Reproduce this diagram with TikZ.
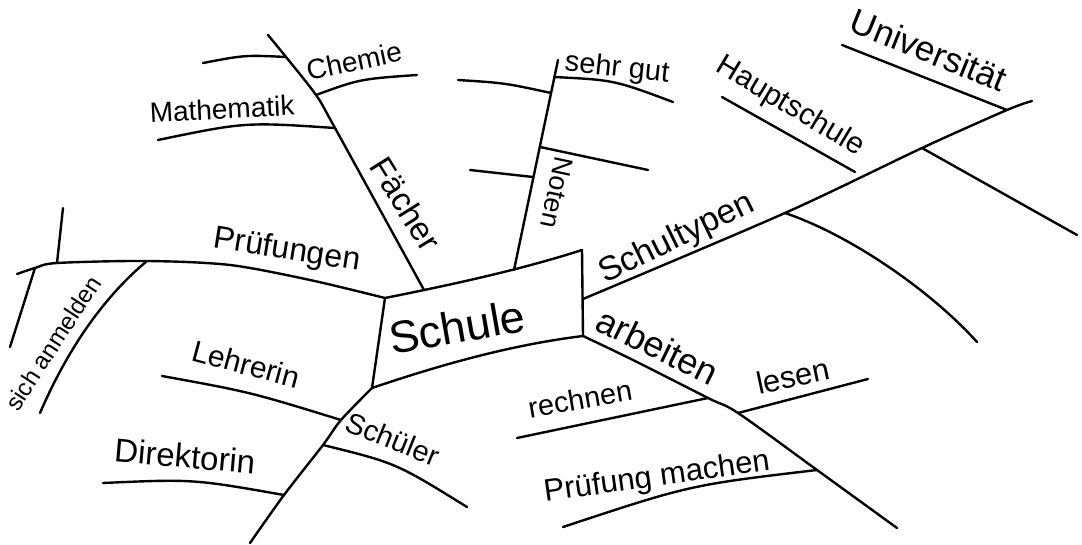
\documentclass[tikz,border=0pt]{standalone}
\usepackage{fontspec}
\setmainfont{Liberation Sans}
\usetikzlibrary{positioning}
\newcommand{\wsize}[1]{\fontsize{#1}{#1}\selectfont}

\begin{document}
\begin{tikzpicture}[x=1pt, y=-1pt]
  \tikzstyle{branch} = [line width=2.4pt, line cap=round, line join=round]
  \tikzstyle{word} = [inner sep=0pt]
  \useasboundingbox (0,0) rectangle (1082,545);

  % central box, corners from top left going clockwise
  \coordinate (tl) at (385,298);
  \coordinate (tr) at (582,250);
  \coordinate (br) at (583,336);
  \coordinate (bl) at (372,388);
  \draw[branch] (tl) .. controls (450,285) and (520,270) .. (tr) -- (br)
     .. controls (510,345) and (440,365) .. (bl) -- cycle;
  \node (schule) [word, font=\wsize{45}, rotate=10] at (457,327) {Schule};

  % Faecher, leaving the top edge
  \coordinate (fa0) at (424,290);
  \coordinate (fa1) at (335,128);
  \coordinate (fa2) at (316,95);
  \coordinate (fa3) at (286,57);
  \coordinate (fa4) at (268,35);
  \draw[branch] plot[smooth] coordinates {(fa0) (fa1) (fa2) (fa3) (fa4)};
  \draw[branch] (fa3) .. controls (245,55) .. (203,63);
  \draw[branch] (fa2) .. controls (360,79) .. (417,75);
  \draw[branch] (fa1) .. controls (245,122) .. (158,140);
  \node (faecher) [word, font=\wsize{33}, rotate=-58] at (406,204) {Fächer};
  \node (chemie)  [word, font=\wsize{28}, rotate=12] at (354,61) {Chemie};
  \node (mathe)   [word, font=\wsize{28}, rotate=3] at (222,109) {Mathematik};

  % Pruefungen, to the left
  \coordinate (pr1) at (147,261);
  \coordinate (pr2) at (57,263);
  \coordinate (an)  at (35,268);
  \coordinate (pr3) at (17,274);
  \draw[branch] plot[smooth] coordinates {(tl) (310,280) (230,265) (pr1) (pr2) (an) (pr3)};
  \draw[branch] (pr2) -- (63,208);
  \draw[branch] (an) -- (10,347);
  \draw[branch] (pr1) .. controls (100,300) and (65,355) .. (40,413);
  \node (pruef)    [word, font=\wsize{32}, rotate=-9] at (287,251) {Prüfungen};
  \node (anmelden) [word, font=\wsize{24}, rotate=57] at (53,343) {sich anmelden};

  % Noten, straight up
  \coordinate (nt0) at (514,270);
  \coordinate (nt1) at (533,177);
  \coordinate (nt2) at (540,147);
  \coordinate (nt3) at (551,93);
  \coordinate (nt4) at (554,77);
  \coordinate (nt5) at (558,60);
  \draw[branch] (nt0) -- (nt5);
  \draw[branch] (nt4) .. controls (614,80) .. (673,102);
  \draw[branch] (nt3) .. controls (505,83) .. (458,80);
  \draw[branch] (nt2) -- (648,170);
  \draw[branch] (nt1) -- (470,170);
  \node (noten)   [word, font=\wsize{27}, rotate=-102] at (557,193) {Noten};
  \node (sehrgut) [word, font=\wsize{29}, rotate=-6] at (617,69) {sehr gut};

  % Schultypen, up to the right
  \coordinate (st0) at (583,299);
  \coordinate (st1) at (785,213);
  \coordinate (st3) at (922,148);
  \coordinate (st4) at (1007,110);
  \coordinate (st5) at (1032,101);
  \draw[branch] plot[smooth] coordinates {(st0) (st1) (st3) (st4) (st5)};
  \draw[branch] (st1) .. controls (850,235) and (930,290) .. (977,342);
  \draw[branch] (st3) -- (1077,235);
  \draw[branch] (st4) -- (842,45);
  \coordinate (hs0) at (722,97);
  \coordinate (hs1) at (855,172);
  \draw[branch] (hs0) -- (hs1);
  \node (schultypen)  [word, font=\wsize{34}, rotate=26] at (677,239) {Schultypen};
  \node (hauptschule) [word, font=\wsize{30}, rotate=-31] at (790,107) {Hauptschule};
  \node (uni)         [word, font=\wsize{35}, rotate=-22] at (929,50) {Universität};

  % arbeiten, down to the right
  \coordinate (ar1) at (708,398);
  \coordinate (ar2) at (738,413);
  \coordinate (ar3) at (817,470);
  \coordinate (ar4) at (897,528);
  \draw[branch] plot[smooth] coordinates {(br) (633,360) (ar1) (ar2) (ar3) (ar4)};
  \draw[branch] (ar1) -- (517,438);
  \draw[branch] (ar2) -- (868,379);
  \draw[branch] (ar3) .. controls (690,485) .. (563,527);
  \node (arbeiten) [word, font=\wsize{36}, rotate=-26] at (658,346) {arbeiten};
  \node (rechnen)  [word, font=\wsize{29}, rotate=10] at (580,399) {rechnen};
  \node (lesen)    [word, font=\wsize{31}, rotate=12] at (793,376) {lesen};
  \node (pmachen)  [word, font=\wsize{31}, rotate=8] at (657,478) {Prüfung machen};

  % Schueler, down to the left
  \coordinate (sc1) at (341,420);
  \coordinate (sc2) at (323,445);
  \coordinate (sc3) at (284,495);
  \coordinate (sc4) at (250,543);
  \draw[branch] plot[smooth] coordinates {(bl) (sc1) (sc2) (sc3) (sc4)};
  \draw[branch] (sc1) .. controls (250,392) .. (162,376);
  \draw[branch] (sc2) .. controls (396,463) .. (467,507);
  \draw[branch] (sc3) .. controls (193,479) .. (103,483);
  \node (lehrerin)   [word, font=\wsize{30}, rotate=-15] at (246,364) {Lehrerin};
  \node (schueler)   [word, font=\wsize{29}, rotate=-22] at (393,439) {Schüler};
  \node (direktorin) [word, font=\wsize{33}, rotate=-5] at (185,456) {Direktorin};
\end{tikzpicture}
\end{document}
